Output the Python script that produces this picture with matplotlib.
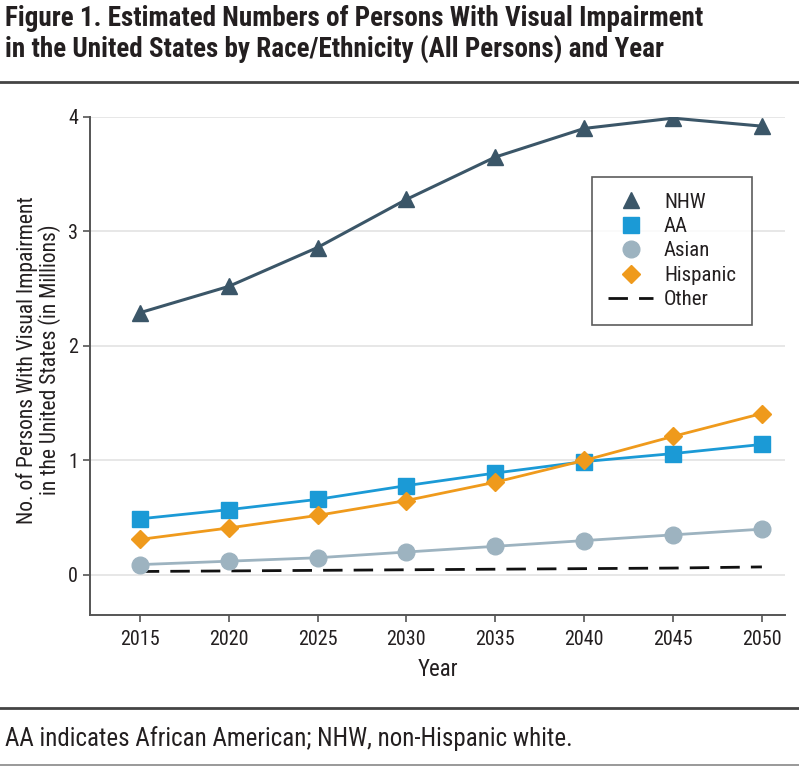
import matplotlib
matplotlib.use("Agg")
import matplotlib.pyplot as plt
from matplotlib.lines import Line2D

plt.rcParams['font.family'] = ['Roboto Condensed', 'Lato', 'DejaVu Sans']

years = [2015, 2020, 2025, 2030, 2035, 2040, 2045, 2050]
nhw = [2.29, 2.52, 2.86, 3.28, 3.65, 3.90, 3.99, 3.92]
aa = [0.49, 0.57, 0.66, 0.78, 0.89, 0.99, 1.06, 1.14]
asian = [0.09, 0.12, 0.15, 0.20, 0.25, 0.30, 0.35, 0.40]
hispanic = [0.31, 0.41, 0.52, 0.65, 0.81, 1.00, 1.21, 1.41]
other = [0.03, 0.035, 0.04, 0.045, 0.05, 0.055, 0.06, 0.07]

c_nhw = "#3b5668"
c_aa = "#1b9ad6"
c_asian = "#9db3c0"
c_hisp = "#ef9a1c"
txt = "#231f20"

fig = plt.figure(figsize=(7.99, 7.67), dpi=100)
W, H = 799, 767

ax = fig.add_axes([90 / W, 1 - 615 / H, (785 - 90) / W, (615 - 117) / H])

ax.plot(years, other, color="#111111", lw=2, dashes=(7, 4), zorder=3)
ax.plot(years, asian, color=c_asian, lw=2, marker="o", ms=12, zorder=4)
ax.plot(years, aa, color=c_aa, lw=2, marker="s", ms=11, zorder=5)
ax.plot(years, hispanic, color=c_hisp, lw=2, marker="D", ms=9, zorder=6)
ax.plot(years, nhw, color=c_nhw, lw=2.2, marker="^", ms=12, zorder=7)

ax.set_xlim(2012.2, 2051.3)
ax.set_ylim(-0.35, 4.0)
ax.set_xticks(years)
ax.set_yticks([0, 1, 2, 3, 4])
ax.tick_params(labelsize=14.5, colors="#555555", labelcolor=txt, length=5, width=1.2)
ax.tick_params(axis="x", pad=6)
ax.grid(axis="y", color="#e3e3e3", lw=1.2)
ax.set_axisbelow(True)
for s in ["top", "right"]:
    ax.spines[s].set_visible(False)
for s in ["left", "bottom"]:
    ax.spines[s].set_color("#555555")
    ax.spines[s].set_linewidth(1.4)

ax.set_xlabel("Year", fontsize=16.5, color=txt, labelpad=6)
ax.set_ylabel("No. of Persons With Visual Impairment\nin the United States (in Millions)",
              fontsize=15.5, color=txt, linespacing=1.0)
ax.yaxis.set_label_coords((61 - 90) / 695, (615 - 360) / 498)

handles = [
    Line2D([], [], color=c_nhw, marker="^", ls="none", ms=12),
    Line2D([], [], color=c_aa, marker="s", ls="none", ms=11),
    Line2D([], [], color=c_asian, marker="o", ls="none", ms=12),
    Line2D([], [], color=c_hisp, marker="D", ls="none", ms=9),
    Line2D([], [], color="#111111", lw=2, dashes=(7, 4)),
]
leg = ax.legend(handles, ["NHW", "AA", "Asian", "Hispanic", "Other"],
                loc="upper left", bbox_to_anchor=((592 - 90) / (785 - 90), (615 - 177) / (615 - 117)),
                fontsize=15, frameon=True, fancybox=False, handlelength=2.2,
                handletextpad=0.5, labelspacing=0.26, borderpad=0.75, borderaxespad=0)
leg.get_frame().set_edgecolor("#333333")
leg.get_frame().set_linewidth(1.2)
for t in leg.get_texts():
    t.set_color(txt)

fig.text(5 / W, 1 - 18 / H, "Figure 1. Estimated Numbers of Persons With Visual Impairment",
         fontsize=19.5, fontweight="semibold", color=txt, va="center", ha="left")
fig.text(5 / W, 1 - 50 / H, "in the United States by Race/Ethnicity (All Persons) and Year",
         fontsize=19.5, fontweight="semibold", color=txt, va="center", ha="left")
fig.add_artist(Line2D([0, 1], [1 - 82 / H, 1 - 82 / H], color="#444444", lw=2))
fig.add_artist(Line2D([0, 1], [1 - 708 / H, 1 - 708 / H], color="#444444", lw=2))
fig.add_artist(Line2D([0, 1], [1 - 765 / H, 1 - 765 / H], color="#888888", lw=1.2))
fig.text(5 / W, 1 - 739 / H, "AA indicates African American; NHW, non-Hispanic white.",
         fontsize=18, color=txt, va="center", ha="left")

fig.savefig("out.png", dpi=100)
